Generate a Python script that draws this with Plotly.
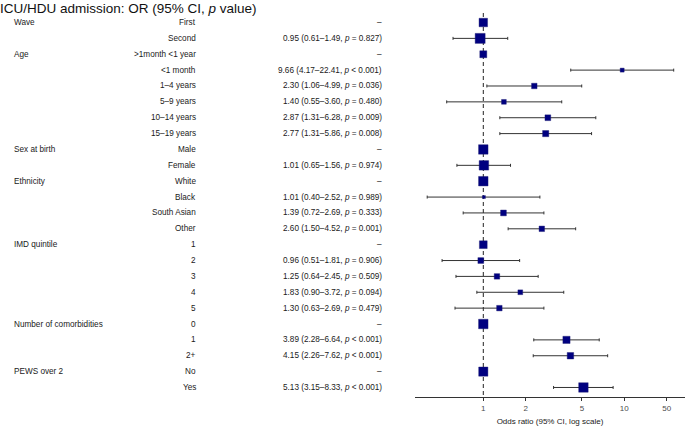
import plotly.graph_objects as go

# forest plot data
var_labels = ["Wave", "", "Age", "", "", "", "", "", "Sex at birth", "",
              "Ethnicity", "", "", "", "IMD quintile", "", "", "", "",
              "Number of comorbidities", "", "", "PEWS over 2", ""]
levels = ["First", "Second", ">1month <1 year", "<1 month", "1–4 years", "5–9 years",
          "10–14 years", "15–19 years", "Male", "Female", "White", "Black",
          "South Asian", "Other", "1", "2", "3", "4", "5", "0", "1", "2+", "No", "Yes"]
or_est = [1, 0.95, 1, 9.66, 2.30, 1.40, 2.87, 2.77, 1, 1.01, 1, 1.01, 1.39, 2.60,
          1, 0.96, 1.25, 1.83, 1.30, 1, 3.89, 4.15, 1, 5.13]
ci_low = [None, 0.61, None, 4.17, 1.06, 0.55, 1.31, 1.31, None, 0.65, None, 0.40,
          0.72, 1.50, None, 0.51, 0.64, 0.90, 0.63, None, 2.28, 2.26, None, 3.15]
ci_high = [None, 1.49, None, 22.41, 4.99, 3.60, 6.28, 5.86, None, 1.56, None, 2.52,
           2.69, 4.52, None, 1.81, 2.45, 3.72, 2.69, None, 6.64, 7.62, None, 8.33]
p_text = [None, "= 0.827", None, "< 0.001", "= 0.036", "= 0.480", "= 0.009", "= 0.008",
          None, "= 0.974", None, "= 0.989", "= 0.333", "= 0.001", None, "= 0.906",
          "= 0.509", "= 0.094", "= 0.479", None, "< 0.001", "< 0.001", None, "< 0.001"]
tick_vals = [1, 2, 5, 10, 20]
tick_text = ["1", "2", "5", "10", "50"]

# marker sizes (px) as drawn in the reference, roughly proportional to n
marker_px = [8.5, 10, 7, 4, 5.5, 4.8, 5.8, 6.2, 9.5, 9.5, 9.5, 3, 5.8, 5.5, 7.8, 5.8,
             5.5, 4.8, 5.5, 9.5, 7.2, 6.5, 9.2, 9.5]

FONT = "Liberation Sans, Arial, sans-serif"
W, H = 685, 428
rows = list(range(len(levels)))
y_lo, y_hi = -0.6, len(levels) - 1 + 0.6

est_idx = [i for i in rows if ci_low[i] is not None]

fig = go.Figure()

# reference line at OR = 1
fig.add_trace(go.Scatter(x=[1, 1], y=[y_lo, y_hi], mode="lines",
                         line=dict(color="#222222", width=1, dash="4px,3px"),
                         hoverinfo="skip", showlegend=False, cliponaxis=False))

# confidence intervals
fig.add_trace(go.Scatter(
    x=[or_est[i] for i in est_idx], y=[rows[i] for i in est_idx], mode="markers",
    marker=dict(size=1, color="rgba(0,0,0,0)"),
    error_x=dict(type="data", symmetric=False,
                 array=[ci_high[i] - or_est[i] for i in est_idx],
                 arrayminus=[or_est[i] - ci_low[i] for i in est_idx],
                 color="#333333", thickness=1, width=1.5),
    showlegend=False, hoverinfo="skip"))

# point estimates (opacity set explicitly: size arrays default to 0.7)
fig.add_trace(go.Scatter(
    x=or_est, y=rows, mode="markers",
    marker=dict(symbol="square", size=marker_px, color="#000080", opacity=1,
                line=dict(color="#1c1c70", width=0.4)),
    showlegend=False))

# text columns
col_var, col_lvl, col_or = 11.5 / W, 198 / W, 384 / W
for i in rows:
    if var_labels[i]:
        fig.add_annotation(x=col_var, y=rows[i], xref="paper", yref="y", text=var_labels[i],
                           xanchor="left", showarrow=False,
                           font=dict(family=FONT, size=8.2, color="#1a1a1a"))
    fig.add_annotation(x=col_lvl, y=rows[i], xref="paper", yref="y", text=levels[i],
                       xanchor="right", showarrow=False,
                       font=dict(family=FONT, size=8.2, color="#1a1a1a"))
    if ci_low[i] is None:
        txt = "–"
    else:
        txt = "%.2f (%.2f–%.2f, <i>p</i> %s)" % (or_est[i], ci_low[i], ci_high[i], p_text[i])
    fig.add_annotation(x=col_or, y=rows[i], xref="paper", yref="y", text=txt,
                       xanchor="right", showarrow=False,
                       font=dict(family=FONT, size=8.2, color="#1a1a1a"))

fig.update_layout(
    width=W, height=H,
    margin=dict(l=0, r=0, t=13, b=31),
    paper_bgcolor="white", plot_bgcolor="white",
    font=dict(family=FONT, size=8, color="#1a1a1a"),
    title=dict(text="ICU/HDU admission: OR (95% CI, <i>p</i> value)",
               x=0, xanchor="left", xref="container", y=1 - 8 / H, yanchor="middle",
               yref="container", font=dict(family=FONT, size=13.5, color="#111111")),
    xaxis=dict(type="log", domain=[415 / W, 1], range=[-0.4844, 1.4305],
               tickvals=tick_vals, ticktext=tick_text,
               showline=True, linecolor="#333333", linewidth=1,
               ticks="outside", ticklen=3, tickcolor="#333333",
               tickfont=dict(family=FONT, size=8, color="#4d4d4d"),
               showgrid=False, zeroline=False,
               title=dict(text="Odds ratio (95% CI, log scale)", standoff=6,
                          font=dict(family=FONT, size=8, color="#1a1a1a"))),
    yaxis=dict(range=[y_hi, y_lo], visible=False, showgrid=False, zeroline=False),
)

# drop the default page margin so the figure sits at the window's top-left corner
fig.write_html("out.html", config={"displayModeBar": False},
               post_script="document.body.style.margin='0px';")
